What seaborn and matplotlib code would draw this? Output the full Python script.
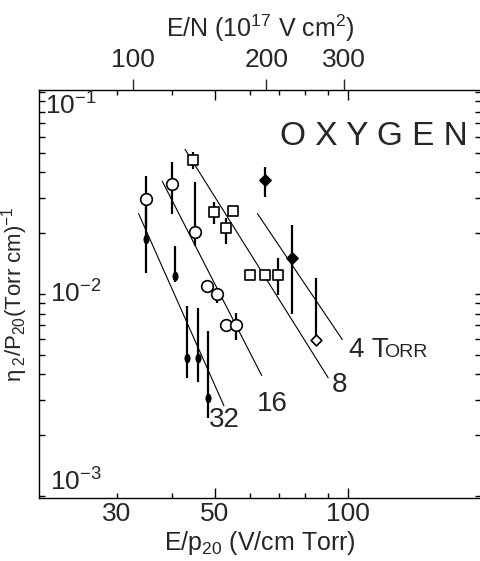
import numpy as np
import pandas as pd
import seaborn as sns
import matplotlib.pyplot as plt
from matplotlib import font_manager
from matplotlib.path import Path
from matplotlib.transforms import Affine2D
from matplotlib.ticker import FixedLocator, NullFormatter, LogLocator, NullLocator

sns.set_style('ticks')

# narrow lettering if available
names = {f.name for f in font_manager.fontManager.ttflist}
fam = 'Liberation Sans Narrow' if 'Liberation Sans Narrow' in names else 'Liberation Sans'
plt.rcParams['font.family'] = [fam, 'DejaVu Sans']
plt.rcParams['mathtext.default'] = 'regular'

nan = np.nan

# ----------------------------------------------------------------------
# data: E/p20 (V/cm Torr), eta2/p20 (1/Torr cm), error bar ends
# ----------------------------------------------------------------------

# 4 Torr (diamonds)
ep_4 = [64.8, 74.8, 84.7]
eta_4 = [0.0365, 0.0150, 0.0059]
lo_4 = [0.0303, 0.0080, 0.0059]
hi_4 = [0.0427, 0.0220, 0.0120]
open_4 = [False, False, True]

# 8 Torr (squares)
ep_8 = [44.7, 49.7, 54.9, 53.1, 59.9, 64.8, 69.5]
eta_8 = [0.0460, 0.0254, 0.0257, 0.0212, 0.01247, 0.01247, 0.01247]
lo_8 = [0.0414, 0.0223, nan, 0.01774, nan, nan, 0.00989]
hi_8 = [0.0505, 0.0285, nan, 0.0239, nan, nan, 0.0151]

# 16 Torr (open circles)
ep_16 = [35.0, 40.0, 45.0, 48.1, 50.6, 53.1, 55.7]
eta_16 = [0.0294, 0.0351, 0.0202, 0.0110, 0.00997, 0.00701, 0.00701]
lo_16 = [0.0220, 0.0250, 0.0172, 0.01026, 0.00902, nan, 0.0059]
hi_16 = [0.0382, 0.0450, 0.0357, 0.01165, 0.01059, nan, 0.00804]

# 32 Torr (filled dots)
ep_32 = [35.0, 40.7, 43.2, 45.8, 48.3]
eta_32 = [0.0187, 0.01233, 0.00484, 0.00484, 0.00305]
lo_32 = [0.0127, 0.01151, 0.00385, 0.00366, 0.00242]
hi_32 = [0.0277, 0.01733, 0.00875, 0.00855, 0.00654]

# fitted lines, one per pressure
fit_p = [4, 8, 16, 32]
fit_x0 = [62.4, 42.8, 38.0, 33.6]
fit_x1 = [97.1, 90.2, 63.8, 52.4]
fit_y0 = [0.0250, 0.0520, 0.0362, 0.0250]
fit_y1 = [0.00595, 0.00385, 0.00395, 0.0028]

# E/N per E/p20 (1e-17 V cm2 per V/cm Torr)
k_en = 3.06

x_major = [30, 50, 100]
x_minor = [40, 60, 70, 80, 90]
top_ticks = [100, 200, 300]

# ----------------------------------------------------------------------
# figure
# ----------------------------------------------------------------------

fig = plt.figure(figsize=(4.81, 5.61), dpi=100)
ax = fig.add_axes([39/481, 63/561, 442/481, 408/561])
ax.set_xscale('log')
ax.set_yscale('log')
ax.set_xlim(20, 200)
ax.set_ylim(10**(-3 - 2/202), 10**(-1 + 2/202))

# error bars
allx = ep_4 + ep_8 + ep_16 + ep_32
alllo = lo_4 + lo_8 + lo_16 + lo_32
allhi = hi_4 + hi_8 + hi_16 + hi_32
bars = pd.DataFrame({'x': allx, 'lo': alllo, 'hi': allhi}).dropna()
ax.vlines(bars['x'], bars['lo'], bars['hi'], color='black', lw=1.6, zorder=2)

# fit lines
fits = pd.DataFrame({
    'p': fit_p * 2,
    'x': fit_x0 + fit_x1,
    'y': fit_y0 + fit_y1,
})
sns.lineplot(data=fits, x='x', y='y', units='p', estimator=None,
             color='black', lw=0.8, ax=ax, zorder=1)

# markers
d4 = pd.DataFrame({'x': ep_4, 'y': eta_4, 'open': open_4})
sns.scatterplot(data=d4[~d4['open']], x='x', y='y', marker='D', s=34,
                color='black', edgecolor='black', linewidth=1, ax=ax, zorder=3)
sns.scatterplot(data=d4[d4['open']], x='x', y='y', marker='D', s=30,
                facecolor='white', edgecolor='black', linewidth=1.2, ax=ax, zorder=3)

sns.scatterplot(x=ep_8, y=eta_8, marker='s', s=45, facecolor='white',
                edgecolor='black', linewidth=1.2, ax=ax, zorder=3)
sns.scatterplot(x=ep_16, y=eta_16, marker='o', s=70, facecolor='white',
                edgecolor='black', linewidth=1.2, ax=ax, zorder=3)

ell = Path.unit_circle().transformed(Affine2D().scale(0.6, 1.0))
sns.scatterplot(x=ep_32, y=eta_32, marker=ell, s=40, color='black',
                edgecolor='black', linewidth=0.5, ax=ax, zorder=3)

ax.set_xlabel('')
ax.set_ylabel('')

# ----------------------------------------------------------------------
# axes, ticks
# ----------------------------------------------------------------------

for s in ax.spines.values():
    s.set_visible(True)
    s.set_linewidth(1.0)
    s.set_color('black')

ax.xaxis.set_major_locator(FixedLocator(x_major))
ax.set_xticklabels([str(v) for v in x_major])
ax.xaxis.set_minor_locator(FixedLocator(x_minor))
ax.xaxis.set_minor_formatter(NullFormatter())
ax.yaxis.set_major_locator(LogLocator(base=10, numticks=10))
ax.yaxis.set_minor_locator(LogLocator(base=10, subs=np.arange(2, 10), numticks=20))
ax.yaxis.set_major_formatter(NullFormatter())
ax.yaxis.set_minor_formatter(NullFormatter())

ax.tick_params(which='both', direction='in', top=True, right=True,
               color='black', width=1.0)
ax.tick_params(axis='x', which='major', length=7, labelsize=19, pad=3)
ax.tick_params(axis='x', which='minor', length=3.5)
ax.tick_params(axis='y', which='both', length=4)
t30 = ax.xaxis.get_major_ticks()[0]
t30.tick1line.set_markersize(3.5)
t30.tick2line.set_markersize(3.5)

ax.set_xlabel(r'E/p$_{20}$ (V/cm Torr)', fontsize=18, labelpad=2)
ax.set_ylabel(r'$\eta_{\;2}$/P$_{20}$(Torr cm)$^{-1}$', fontsize=16, labelpad=3)

# decade labels inside the frame
ytr = ax.get_yaxis_transform()
ax.text(0.014, 1e-1, r'10$^{-1}$', transform=ytr, fontsize=19, ha='left', va='top')
ax.text(0.024, 1e-2, r'10$^{-2}$', transform=ytr, fontsize=19, ha='left', va='center')
ax.text(0.024, 1e-3, r'10$^{-3}$', transform=ytr, fontsize=19, ha='left', va='bottom')

# top axis: E/N
secax = ax.secondary_xaxis('top', functions=(lambda x: x * k_en, lambda x: x / k_en))
secax.xaxis.set_major_locator(FixedLocator(top_ticks))
secax.set_xticklabels([str(v) for v in top_ticks])
secax.xaxis.set_minor_locator(NullLocator())
secax.tick_params(direction='out', length=8, width=1.0, labelsize=19, pad=5)
secax.spines['top'].set_visible(False)
secax.set_xlabel(r'E/N (10$^{17}$ V cm$^{2}$)', fontsize=18, labelpad=8)

# labels
ax.text(0.971, 0.925, 'O X Y G E N', transform=ax.transAxes, fontsize=24,
        ha='right', va='top')
ax.text(100.5, 0.00486, '4 T', fontsize=20, ha='left', va='baseline')
ax.text(121, 0.00486, 'ORR', fontsize=14, ha='left', va='baseline')
ax.text(95.9, 0.00353, '8', fontsize=20, ha='center', va='center')
ax.text(67.3, 0.00284, '16', fontsize=20, ha='center', va='center')
ax.text(52.6, 0.00239, '32', fontsize=20, ha='center', va='center')

fig.savefig('out.png', dpi=100, facecolor='white')
